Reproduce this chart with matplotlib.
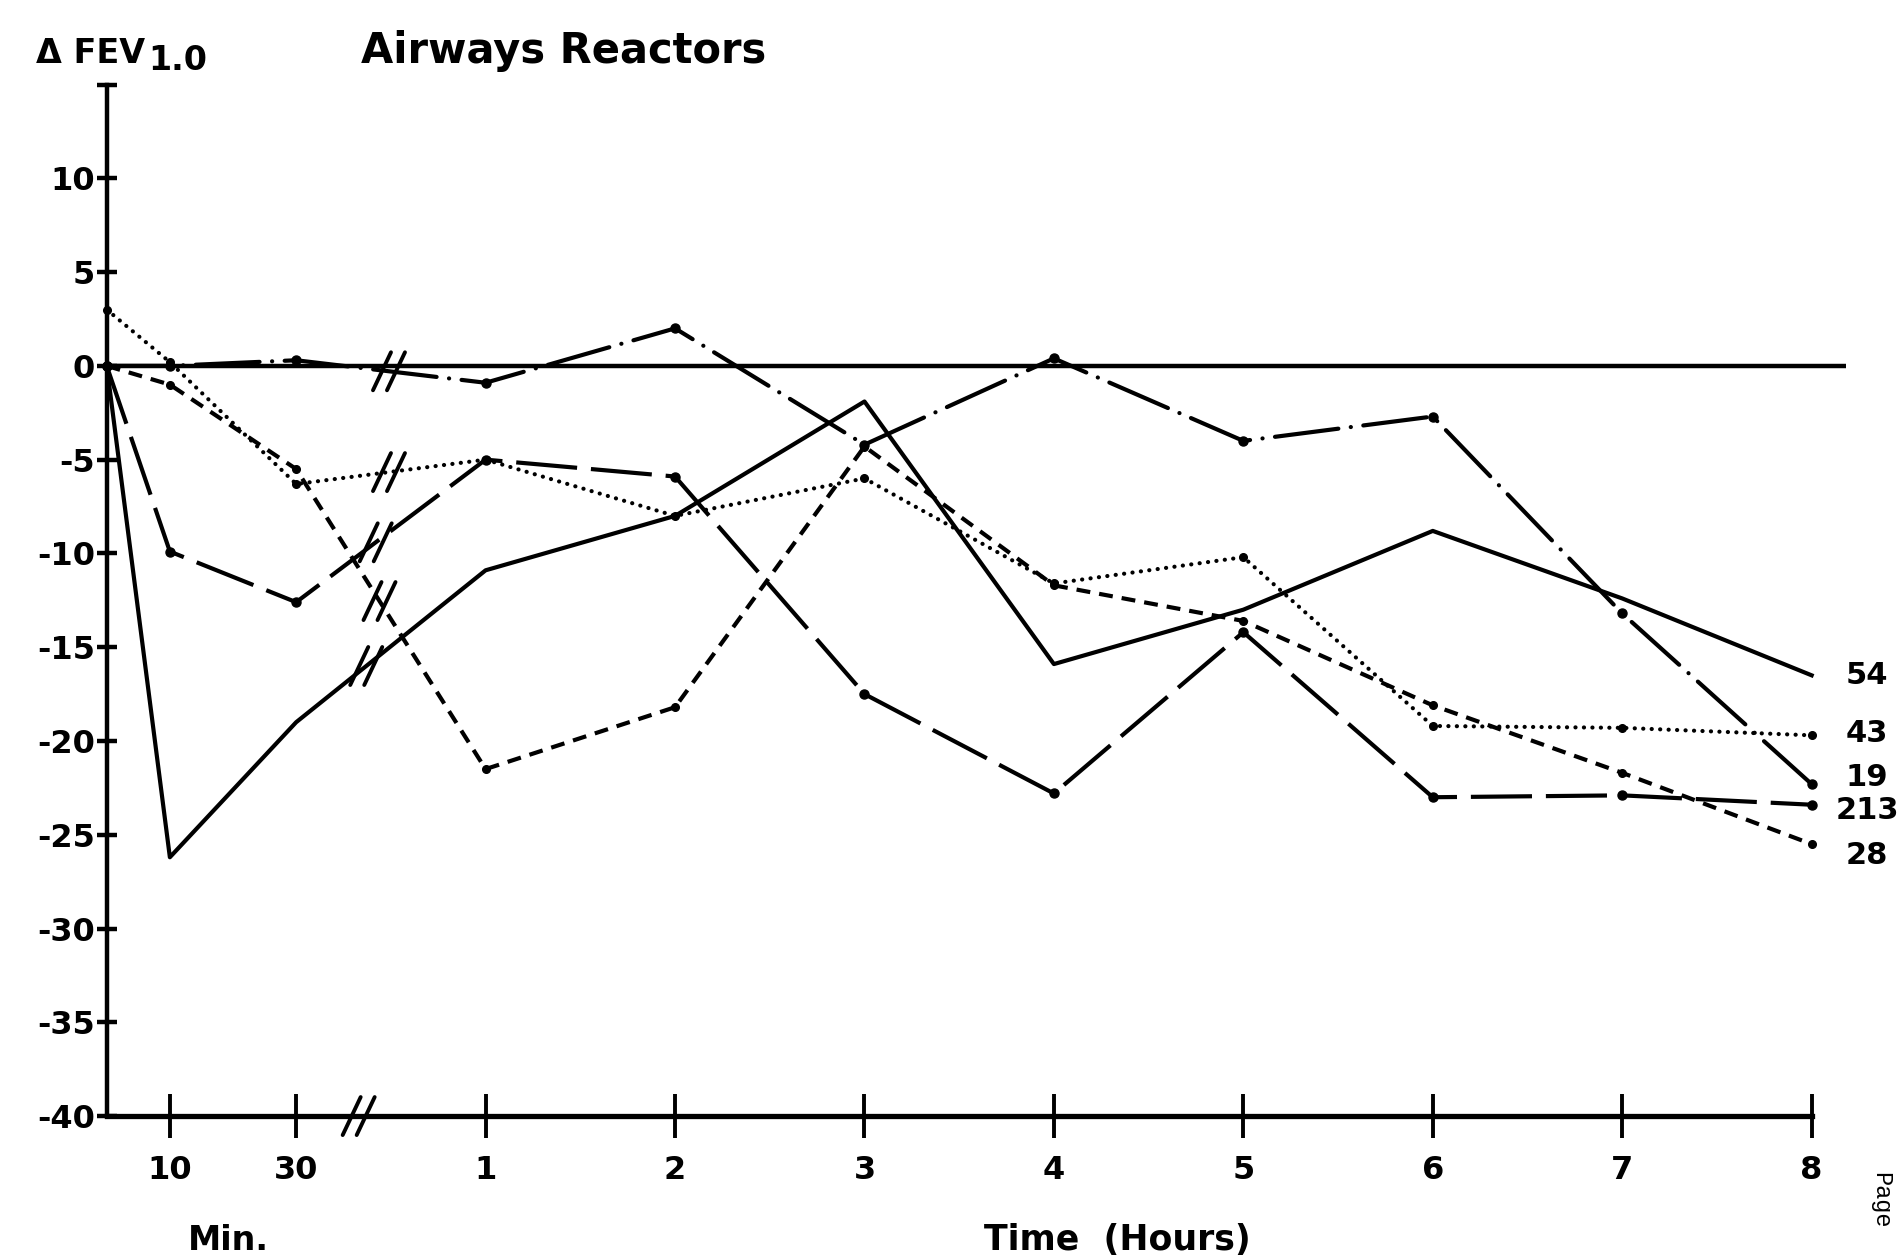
import matplotlib
matplotlib.use("Agg")
import matplotlib.pyplot as plt
from matplotlib.lines import Line2D
from matplotlib.transforms import IdentityTransform
import numpy as np

# ---------------- data ----------------
time_min = [0, 10, 30, 60, 120, 180, 240, 300, 360, 420, 480]
subj_54 = [0, -26.2, -19.0, -10.9, -8.0, -1.9, -15.9, -13.0, -8.8, -12.4, -16.5]
subj_43 = [3.0, 0.2, -6.3, -5.0, -8.0, -6.0, -11.6, -10.2, -19.2, -19.3, -19.7]
subj_19 = [0, 0, 0.3, -0.9, 2.0, -4.2, 0.4, -4.0, -2.7, -13.2, -22.3]
subj_213 = [0, -9.9, -12.6, -5.0, -5.9, -17.5, -22.8, -14.2, -23.0, -22.9, -23.4]
subj_28 = [0, -1.0, -5.5, -21.5, -18.2, -4.3, -11.7, -13.6, -18.1, -21.7, -25.5]
subject_labels = ["54", "43", "19", "213", "28"]
x_tick_minutes = [10, 30, 60, 120, 180, 240, 300, 360, 420, 480]
x_tick_labels = ["10", "30", "1", "2", "3", "4", "5", "6", "7", "8"]
y_ticks = [10, 5, 0, -5, -10, -15, -20, -25, -30, -35, -40]

# ---------------- figure ----------------
plt.rcParams['font.family'] = ['DejaVu Sans']
plt.rcParams['font.weight'] = 'bold'
plt.rcParams['lines.scale_dashes'] = False

W, H = 1898, 1258
fig = plt.figure(figsize=(W / 100, H / 100), dpi=100)
ax = fig.add_axes([0, 0, 1, 1])
ax.patch.set_alpha(0)

# layout frame (reference pixel frame)
DW, DH = 1565.0, 1037.0
X0, XU = 88.0, 156.2
Y0, YU = 301.6, 15.46
ax.set_xlim(-X0 / XU, (DW - X0) / XU)
ax.set_ylim((Y0 - DH) / YU, Y0 / YU)


def tpos(t):
    # broken time axis: minutes section then hours section
    return t / 30.0 if t <= 30 else t / 60.0 + 1.0


xs = [tpos(t) for t in time_min]

for s in ['top', 'right']:
    ax.spines[s].set_visible(False)
ax.spines['left'].set_position(('data', 0))
ax.spines['left'].set_bounds(-40, 15)
ax.spines['left'].set_linewidth(3.2)
ax.spines['bottom'].set_position(('data', -40))
ax.spines['bottom'].set_bounds(0, tpos(480))
ax.spines['bottom'].set_linewidth(3.8)

ax.set_yticks(y_ticks + [15])
ax.set_yticklabels([str(v) for v in y_ticks] + [""])
ax.set_xticks([tpos(t) for t in x_tick_minutes])
ax.set_xticklabels(x_tick_labels)
ax.tick_params(axis='y', direction='inout', length=15, width=3.2, pad=1, labelsize=23)
ax.tick_params(axis='x', direction='inout', length=32, width=2.8, pad=12, labelsize=23)

# zero reference line
ax.hlines(0, 0, 9.18, color='black', lw=3.2, zorder=2)

series = [subj_54, subj_43, subj_19, subj_213, subj_28]
styles = [
    dict(linestyle='-', marker=None),
    dict(linestyle=(0, (0.1, 6.0)), dash_capstyle='round', marker='o', ms=5.5),
    dict(linestyle=(0, (46, 9, 0.1, 9)), dash_capstyle='round', marker='o', ms=6.5),
    dict(linestyle=(0, (44, 10)), marker='o', ms=6.5),
    dict(linestyle=(0, (10, 6.5)), marker='o', ms=5.5),
]
label_offsets = [(40, 0), (40, 1), (40, 5), (40, -4), (40, -8)]
break_x = [1.37, 1.49, 1.49, 1.42, 1.44]

for vals, st, lab, off in zip(series, styles, subject_labels, label_offsets):
    ax.plot(xs, vals, color='black', lw=3.0, zorder=3, **st)
    ax.annotate(lab, xy=(xs[-1], vals[-1]), xytext=off, textcoords='offset points',
                ha='center', va='center', fontsize=22, fontweight='bold')

fig.canvas.draw()


def break_mark(x, y, dx=7, hw=9, hh=19):
    cx, cy = ax.transData.transform((x, y))
    for o in (-dx, dx):
        fig.add_artist(Line2D([cx + o - hw, cx + o + hw], [cy - hh, cy + hh],
                              transform=IdentityTransform(), color='black', lw=2.8,
                              solid_capstyle='round'))


for vals, bx in zip(series, break_x):
    break_mark(bx, float(np.interp(bx, xs, vals)))
break_mark(1.33, -40)


def fpos(xd, yd):
    return xd / DW, 1 - yd / DH


fig.text(*fpos(30, 52), "\u0394 FEV", ha='left', va='baseline', fontsize=24)
fig.text(*fpos(122, 58), "1.0", ha='left', va='baseline', fontsize=24)
fig.text(*fpos(298, 52), "Airways Reactors", ha='left', va='baseline', fontsize=30,
         fontweight='bold')
fig.text(*fpos(188, 1030), "Min.", ha='center', va='baseline', fontsize=24)
fig.text(*fpos(921, 1030), "Time  (Hours)", ha='center', va='baseline', fontsize=25)
fig.text(*fpos(1551, 966), "Page", ha='center', va='top', rotation=270,
         fontsize=17, family='Liberation Mono', fontweight='normal')

fig.savefig("out.png", dpi=100)
